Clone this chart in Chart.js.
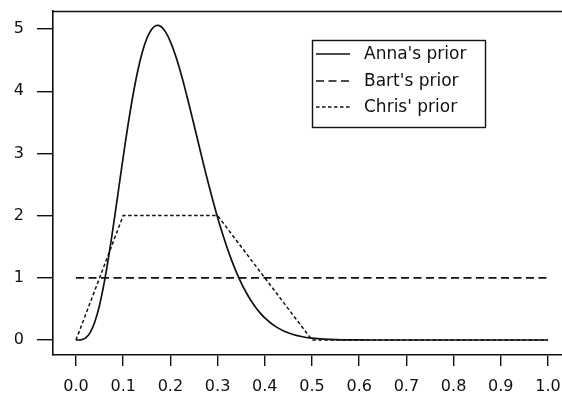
<!DOCTYPE html>
<html>
<head>
<meta charset="utf-8">
<script src="https://cdn.jsdelivr.net/npm/chart.js@4/dist/chart.umd.min.js"></script>
<style>
html,body{margin:0;padding:0;background:#fff;}
#wrap{width:562px;height:396px;position:relative;}
</style>
</head>
<body>
<div id="wrap"><canvas id="c" width="562" height="396"></canvas></div>
<script>
// ---- data ----
const seriesNames = ["Anna's prior", "Bart's prior", "Chris' prior"];
const annaX = [0,0.01,0.02,0.03,0.04,0.05,0.06,0.07,0.08,0.09,0.10,0.11,0.12,0.13,0.14,0.15,0.16,0.17,0.18,0.19,0.20,0.21,0.22,0.23,0.24,0.25,0.26,0.27,0.28,0.29,0.30,0.31,0.32,0.33,0.34,0.35,0.36,0.37,0.38,0.39,0.40,0.42,0.44,0.46,0.48,0.50,0.55,0.60,0.65,0.70,0.80,0.90,1.00];
const annaY = [0,0.003,0.031,0.118,0.293,0.564,0.931,1.376,1.878,2.408,2.939,3.445,3.903,4.297,4.614,4.847,4.994,5.057,5.040,4.950,4.798,4.594,4.348,4.070,3.771,3.461,3.147,2.835,2.533,2.244,1.971,1.719,1.487,1.276,1.087,0.919,0.772,0.643,0.532,0.437,0.356,0.231,0.146,0.089,0.053,0.030,0.006,0.001,0,0,0,0,0];
const bartX = [0, 1];
const bartY = [1, 1];
const chrisX = [0, 0.1, 0.3, 0.5, 1.0];
const chrisY = [0, 2, 2, 0, 0];
const xTicks = [0,0.1,0.2,0.3,0.4,0.5,0.6,0.7,0.8,0.9,1.0];
const yTicks = [0,1,2,3,4,5];

const pts = (xs, ys) => xs.map((x, i) => ({x: x, y: ys[i]}));
const ink = '#111111';
const noPad = s => { s.paddingTop = 0; s.paddingBottom = 0; s.paddingLeft = 0; s.paddingRight = 0; };

const topLine = {
  id: 'topLine',
  afterDraw(chart) {
    const {ctx, chartArea} = chart;
    ctx.save();
    ctx.strokeStyle = ink;
    ctx.lineWidth = 1.6;
    ctx.beginPath();
    ctx.moveTo(chartArea.left, chartArea.top + 0.5);
    ctx.lineTo(chartArea.right, chartArea.top + 0.5);
    ctx.stroke();
    ctx.restore();
  }
};

const boxLegend = {
  id: 'boxLegend',
  afterDraw(chart) {
    const {ctx} = chart;
    ctx.save();
    ctx.strokeStyle = ink;
    ctx.lineWidth = 1.4;
    ctx.strokeRect(312.5, 40.5, 173, 87);
    const rows = [54, 81, 107];
    chart.data.datasets.forEach((ds, i) => {
      const y = rows[i];
      ctx.setLineDash(ds.borderDash || []);
      ctx.lineWidth = ds.borderWidth;
      ctx.beginPath();
      ctx.moveTo(316, y);
      ctx.lineTo(350, y);
      ctx.stroke();
      ctx.setLineDash([]);
      ctx.fillStyle = ink;
      ctx.font = '17px "DejaVu Sans"';
      ctx.textBaseline = 'middle';
      ctx.textAlign = 'left';
      ctx.fillText(ds.label, 364, y + 1);
    });
    ctx.restore();
  }
};

new Chart(document.getElementById('c'), {
  type: 'line',
  data: {
    datasets: [
      {label: seriesNames[0], data: pts(annaX, annaY), borderColor: ink, borderWidth: 1.7, pointRadius: 0, tension: 0.3, fill: false},
      {label: seriesNames[1], data: pts(bartX, bartY), borderColor: ink, borderWidth: 1.7, borderDash: [8, 4.5], pointRadius: 0, fill: false},
      {label: seriesNames[2], data: pts(chrisX, chrisY), borderColor: ink, borderWidth: 1.5, borderDash: [3.5, 2.5], pointRadius: 0, fill: false}
    ]
  },
  options: {
    responsive: false,
    animation: false,
    events: [],
    layout: {autoPadding: false, padding: {top: 11, right: 0, left: 0, bottom: 0}},
    plugins: {legend: {display: false}, tooltip: {enabled: false}},
    scales: {
      x: {
        type: 'linear',
        min: -0.0487,
        max: 1.0297,
        afterBuildTicks: s => { s.ticks = xTicks.map(v => ({value: v})); },
        afterFit: s => { s.height = 41; noPad(s); },
        border: {display: true, color: ink, width: 1.6},
        grid: {display: true, drawOnChartArea: false, drawTicks: true, tickLength: 11, color: ink, lineWidth: 1.4},
        ticks: {color: ink, font: {family: 'DejaVu Sans', size: 16}, padding: 11, maxRotation: 0, autoSkip: false,
                callback: v => Number(v).toFixed(1)}
      },
      y: {
        type: 'linear',
        min: -0.241,
        max: 5.29,
        afterBuildTicks: s => { s.ticks = yTicks.map(v => ({value: v})); },
        afterFit: s => { s.width = 53; noPad(s); },
        border: {display: true, color: ink, width: 1.6},
        grid: {display: true, drawOnChartArea: false, drawTicks: true, tickLength: 16, color: ink, lineWidth: 1.4},
        ticks: {color: ink, font: {family: 'DejaVu Sans', size: 16}, padding: 13,
                callback: v => String(v)}
      }
    }
  },
  plugins: [topLine, boxLegend]
});
</script>
</body>
</html>
